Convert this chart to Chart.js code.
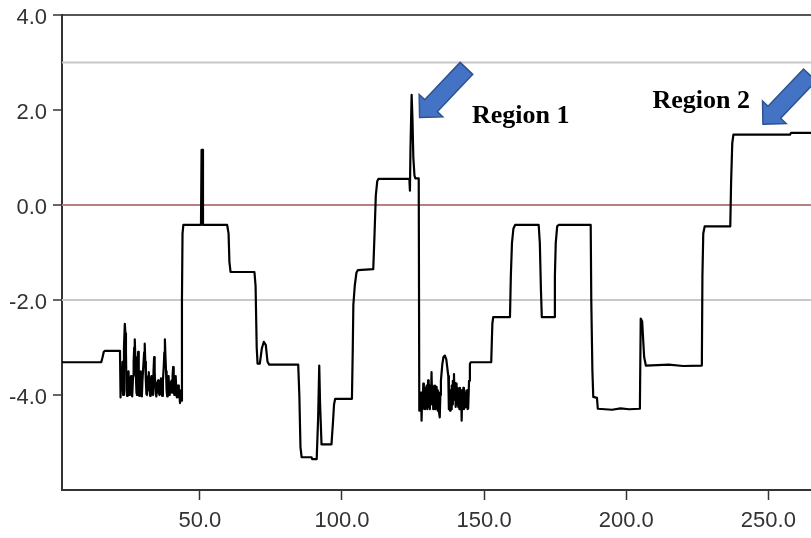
<!DOCTYPE html>
<html>
<head>
<meta charset="utf-8">
<script src="https://cdn.jsdelivr.net/npm/chart.js@4.4.1/dist/chart.umd.min.js"></script>
<style>
  html, body { margin:0; padding:0; background:#fff; }
  #wrap { width:811px; height:538px; }
</style>
</head>
<body>
<div id="wrap"><canvas id="chart"></canvas></div>
<script>
// --- data ---
const xTicks = [50, 100, 150, 200, 250];
const yTicks = [4, 2, 0, -2, -4];

const seriesX = [
  1.5, 15.3, 15.7, 16.2, 16.6, 21.9,
  22.1, 22.4, 22.6, 22.8, 23.0, 23.3, 23.6, 23.8, 24.0, 24.2,
  24.4, 24.6, 24.9, 25.1, 25.3, 25.5, 25.8, 26.0, 26.2, 26.5,
  26.7, 26.9, 27.1, 27.3, 27.5, 27.7, 27.9, 28.1, 28.3, 28.5,
  28.7, 28.9, 29.2, 29.4, 29.6, 29.8, 30.1, 30.4, 30.6, 30.8,
  31.0, 31.2, 31.4, 31.6, 31.8, 31.95, 32.1, 32.3, 32.5, 32.7,
  33.0, 33.2, 33.5, 33.7, 33.9, 34.1, 34.3, 34.5, 34.7, 35.0,
  35.3, 35.5, 35.8, 36.0, 36.3, 36.5, 36.8, 37.0, 37.3, 37.5,
  37.7, 37.9, 38.1, 38.3, 38.5, 38.7, 39.0, 39.2, 39.4, 39.7,
  40.0, 40.2, 40.4, 40.6, 40.8, 41.0, 41.2, 41.5, 41.7, 41.9,
  42.1, 42.4, 42.6, 42.8, 43.0, 43.3, 43.5,
  43.7, 43.9, 44.2, 50.4, 50.6, 50.9, 51.1, 59.6, 60.1, 60.4,
  60.8, 69.2, 69.6, 70.0, 70.3, 71.1, 71.8, 72.5, 73.2, 73.8,
  74.4, 84.6, 85.0, 85.4, 85.8, 89.3, 89.5, 91.1, 91.6, 92.0,
  92.3, 92.8, 96.3, 96.8, 97.2, 97.6, 103.5, 103.8, 104.0, 104.5,
  105.1, 105.6, 111.0, 111.4, 111.9, 112.4, 112.8, 123.7, 123.9, 124.1,
  124.5, 124.8, 125.1, 125.5, 125.8, 127.0,
  127.2, 127.4, 127.6, 127.8, 128.0, 128.2, 128.4, 128.6, 128.8, 129.0,
  129.2, 129.4, 129.6, 129.8, 130.0, 130.3, 130.5, 130.7, 130.9, 131.1,
  131.3, 131.5, 131.7, 131.9, 132.1, 132.3, 132.5, 132.7, 132.9, 133.1,
  133.3, 133.5, 133.7, 133.9, 134.1, 134.4, 134.6, 134.8, 135.0, 135.3,
  135.7, 136.2, 136.7, 137.1, 137.4, 137.6, 137.8, 138.0, 138.2, 138.4,
  138.6, 138.8, 139.0, 139.2, 139.4, 139.6, 139.8, 140.0, 140.3, 140.5,
  140.7, 140.9, 141.1, 141.3, 141.5, 141.7, 141.9, 142.1, 142.3, 142.5,
  142.7, 142.9, 143.1, 143.3, 143.5, 143.8, 144.0, 144.2, 144.4, 144.7,
  145.0, 145.3,
  152.5, 152.9, 153.2, 159.1, 159.4, 159.8, 160.3, 160.9, 169.2, 169.6,
  170.0, 170.3, 174.6, 174.9, 175.2, 175.7, 176.2, 187.5, 187.7, 188.1,
  188.4, 189.7, 190.0, 195.0, 198.0, 201.0, 204.8, 205.1, 205.6, 206.3,
  206.9, 215.0, 220.0, 226.6, 226.8, 227.1, 227.6, 236.6, 236.9, 237.3,
  237.7, 257.6, 258.0, 265.0
];
const seriesY = [
  -3.31, -3.31, -3.22, -3.09, -3.07, -3.07,
  -4.05, -3.4, -3.9, -3.3, -4.0, -3.0, -2.5, -2.7, -3.1, -3.9,
  -4.02, -3.6, -3.5, -3.95, -4.0, -3.7, -3.6, -4.0, -4.03, -3.6,
  -3.3, -3.0, -2.83, -3.2, -3.6, -3.95, -4.0, -3.5, -3.09, -3.6,
  -4.02, -3.7, -3.5, -3.9, -4.03, -3.7, -3.4, -3.1, -2.92, -3.3,
  -3.7, -3.98, -4.0, -3.7, -3.6, -3.9, -3.52, -3.8, -4.02, -3.7,
  -3.6, -3.95, -4.0, -3.5, -3.2, -3.5, -3.8, -3.98, -4.03, -3.75,
  -3.69, -3.95, -4.0, -3.7, -3.65, -3.98, -4.02, -3.7, -3.4, -3.1,
  -2.83, -3.2, -3.5, -3.9, -4.03, -3.7, -3.6, -3.95, -4.0, -3.75,
  -3.7, -3.95, -3.6, -3.41, -3.7, -4.0, -3.8, -3.6, -3.9, -4.05,
  -3.8, -3.8, -4.05, -3.9, -4.17, -4.05, -4.12,
  -2.0, -0.6, -0.42, -0.42, 1.16, 1.16, -0.42, -0.42, -0.6, -1.2,
  -1.41, -1.41, -1.7, -3.0, -3.34, -3.34, -3.02, -2.88, -2.95, -3.3,
  -3.36, -3.36, -4.0, -5.1, -5.31, -5.31, -5.35, -5.35, -4.5, -3.38,
  -4.2, -5.04, -5.04, -4.6, -4.2, -4.08, -4.08, -3.0, -2.1, -1.7,
  -1.42, -1.37, -1.35, -0.7, 0.2, 0.5, 0.55, 0.55, 0.3, 1.2,
  2.32, 1.8, 1.0, 0.62, 0.56, 0.56,
  -4.33, -4.1, -4.3, -3.95, -4.54, -4.0, -4.3, -3.76, -4.25, -3.9,
  -4.3, -3.85, -4.2, -3.8, -4.3, -3.69, -4.25, -3.8, -4.3, -3.9,
  -4.2, -3.52, -4.1, -3.8, -4.3, -3.85, -4.26, -3.8, -4.3, -3.83,
  -4.2, -3.9, -4.33, -3.95, -4.35, -4.47, -4.0, -3.7, -3.56, -3.35,
  -3.2, -3.17, -3.25, -3.45, -3.6, -4.3, -4.0, -4.33, -3.9, -4.3,
  -3.8, -4.2, -3.7, -4.0, -3.56, -4.1, -3.75, -4.25, -3.76, -4.2,
  -3.85, -4.25, -3.9, -4.3, -3.85, -4.2, -3.9, -4.54, -3.95, -4.25,
  -3.85, -4.3, -3.9, -4.26, -3.95, -4.2, -3.9, -4.3, -4.28, -3.7,
  -3.35, -3.31,
  -3.31, -2.5, -2.36, -2.36, -1.5, -0.8, -0.5, -0.42, -0.42, -0.8,
  -1.8, -2.36, -2.36, -1.5, -0.8, -0.45, -0.42, -0.42, -2.0, -3.5,
  -4.04, -4.06, -4.29, -4.31, -4.28, -4.3, -4.29, -2.39, -2.45, -3.2,
  -3.38, -3.36, -3.39, -3.38, -1.5, -0.6, -0.45, -0.45, 0.5, 1.3,
  1.48, 1.48, 1.52, 1.52
];

// horizontal reference lines
const refValues = [3, 0, -2];
const refColors = ['#c8c8c8', '#b9807d', '#c8c8c8'];

const X_MIN = 1.5, X_MAX = 265, Y_MIN = -6, Y_MAX = 4;

// annotations (anchored in data units)
const noteText = ['Region 1', 'Region 2'];
const noteX = [145.7, 209.2];
const noteY = [1.73, 2.05];
const arrowTipX = [127.3, 248.1];
const arrowTipY = [1.84, 1.70];

// --- datasets ---
const datasets = [{
  data: seriesX.map((x, i) => ({x, y: seriesY[i]})),
  borderColor: '#000',
  borderWidth: 2.2,
  pointRadius: 0,
  tension: 0,
  borderJoinStyle: 'round',
  order: 1
}];
refValues.forEach((v, i) => {
  datasets.push({
    data: [{x: X_MIN, y: v}, {x: X_MAX, y: v}],
    borderColor: refColors[i],
    borderWidth: 2,
    pointRadius: 0,
    order: 2
  });
});

// arrows + labels
const notesPlugin = {
  id: 'notes',
  afterDatasetsDraw(chart) {
    const {ctx, scales: {x, y}} = chart;
    ctx.save();
    const ux = 0.689, uy = -0.724;           // tip -> tail direction
    const vx = -uy, vy = ux;                  // perpendicular
    const L = 68, H = 16.5, HW = 16.3, SW = 8.7;
    arrowTipX.forEach((ax, i) => {
      const tx = x.getPixelForValue(ax), ty = y.getPixelForValue(arrowTipY[i]);
      const p = (a, b) => [tx + ux * a + vx * b, ty + uy * a + vy * b];
      const pts = [p(0, 0), p(H, HW), p(H, SW), p(L, SW), p(L, -SW), p(H, -SW), p(H, -HW)];
      ctx.beginPath();
      pts.forEach((q, k) => k ? ctx.lineTo(q[0], q[1]) : ctx.moveTo(q[0], q[1]));
      ctx.closePath();
      ctx.fillStyle = '#4472c4';
      ctx.fill();
      ctx.lineWidth = 1.5;
      ctx.strokeStyle = '#2f528f';
      ctx.stroke();
    });
    ctx.font = 'bold 26px "Liberation Serif", "Times New Roman", serif';
    ctx.fillStyle = '#000';
    ctx.textAlign = 'left';
    ctx.textBaseline = 'alphabetic';
    noteText.forEach((t, i) => {
      ctx.fillText(t, x.getPixelForValue(noteX[i]), y.getPixelForValue(noteY[i]));
    });
    ctx.restore();
  }
};

const tickFont = {family: '"Liberation Sans", Arial, sans-serif', size: 22};

new Chart(document.getElementById('chart'), {
  type: 'line',
  data: {datasets},
  options: {
    responsive: true,
    maintainAspectRatio: false,
    animation: false,
    devicePixelRatio: 1,
    layout: {padding: {top: 15, right: 0, left: 0, bottom: 0}},
    plugins: {legend: {display: false}, tooltip: {enabled: false}},
    scales: {
      x: {
        type: 'linear',
        min: X_MIN, max: X_MAX,
        afterBuildTicks: s => { s.ticks = xTicks.map(v => ({value: v})); },
        afterFit: s => { s.height = 48; s.paddingRight = 0; },
        ticks: {font: tickFont, color: '#333', padding: 8, maxRotation: 0,
                callback: v => v.toFixed(1)},
        grid: {drawOnChartArea: false, drawTicks: true, tickLength: 10, tickColor: '#333', tickWidth: 1.5},
        border: {color: '#333', width: 2}
      },
      y: {
        min: Y_MIN, max: Y_MAX,
        afterBuildTicks: s => { s.ticks = yTicks.map(v => ({value: v})); },
        afterFit: s => { s.width = 62; s.paddingTop = 0; s.paddingBottom = 0; },
        ticks: {font: tickFont, color: '#333', padding: 6, labelOffset: 3,
                callback: v => v.toFixed(1)},
        grid: {
          drawOnChartArea: true, drawTicks: true, tickLength: 9,
          color: c => (c.tick && c.tick.value === Y_MAX) ? '#555' : 'rgba(0,0,0,0)',
          lineWidth: 2, tickColor: '#333', tickWidth: 1.5
        },
        border: {color: '#333', width: 2}
      }
    }
  },
  plugins: [notesPlugin]
});
</script>
</body>
</html>
